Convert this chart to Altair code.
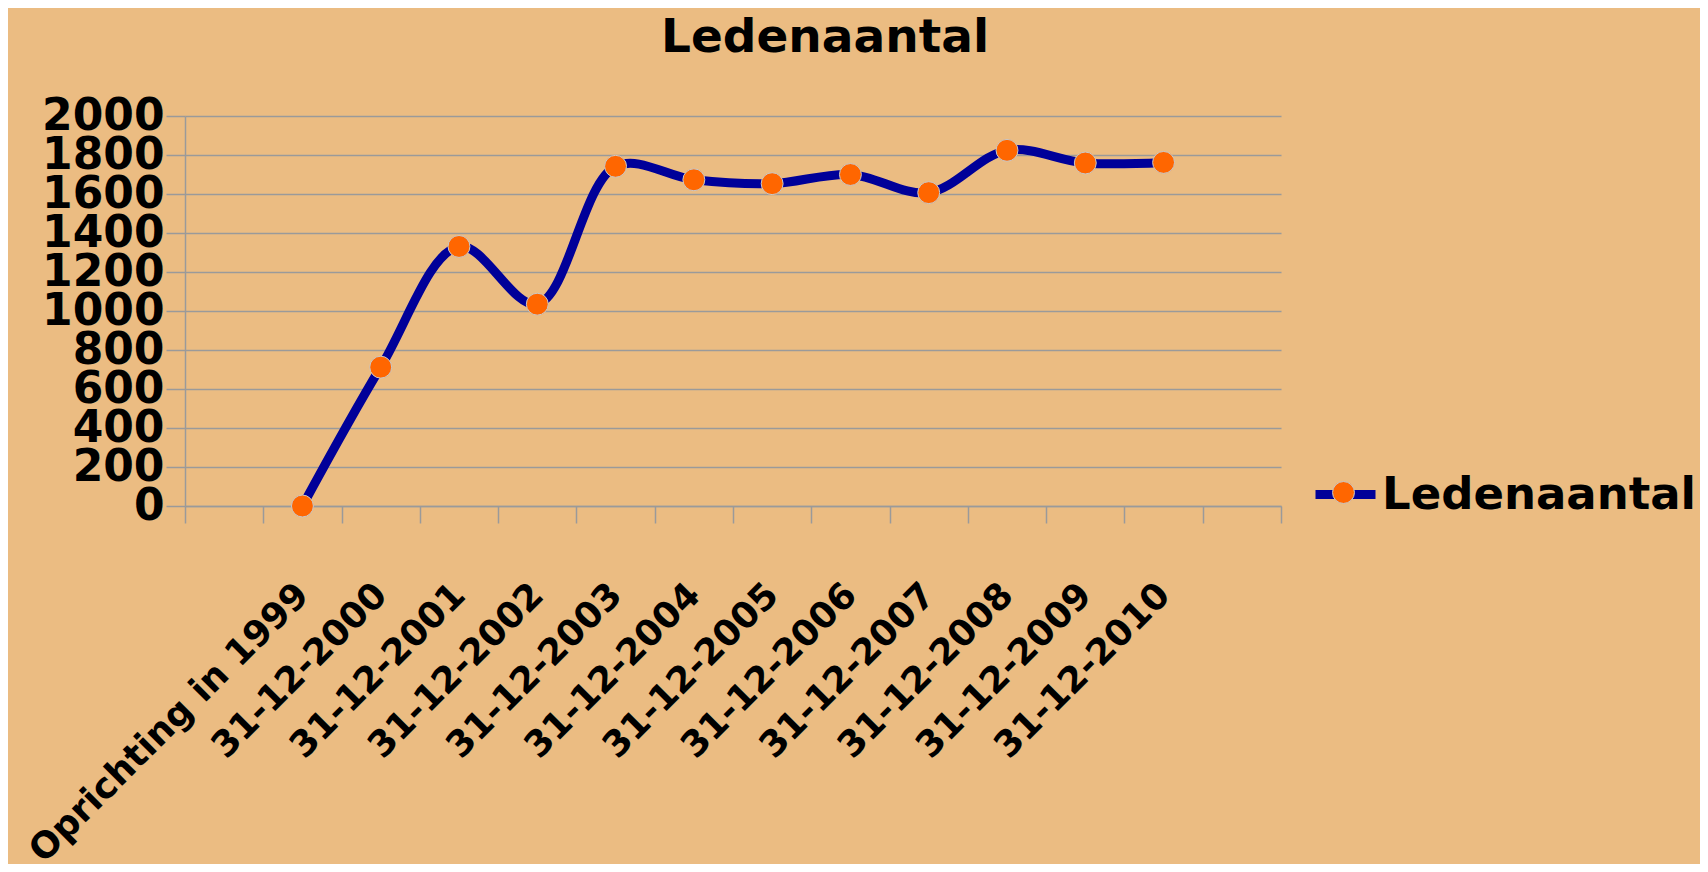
import altair as alt
import pandas as pd

categories = ["_start", "Oprichting in 1999", "31-12-2000", "31-12-2001", "31-12-2002",
              "31-12-2003", "31-12-2004", "31-12-2005", "31-12-2006", "31-12-2007",
              "31-12-2008", "31-12-2009", "31-12-2010", "_end"]
labels = ["Oprichting in 1999", "31-12-2000", "31-12-2001", "31-12-2002",
          "31-12-2003", "31-12-2004", "31-12-2005", "31-12-2006", "31-12-2007",
          "31-12-2008", "31-12-2009", "31-12-2010"]
values = [0, 712, 1331, 1035, 1742, 1673, 1653, 1700, 1607, 1824, 1759, 1762]
y_ticks = [0, 200, 400, 600, 800, 1000, 1200, 1400, 1600, 1800, 2000]

df = pd.DataFrame({"cat": labels, "val": values,
                   "series": ["Ledenaantal"] * len(labels),
                   "series_pt": ["Ledenaantal"] * len(labels)})

FONT = "DejaVu Sans"
GRID = "#9a9a9a"
BG = "#EBBC82"
NAVY = "#000099"
ORANGE = "#FF6600"

x_enc = alt.X("cat:N", sort=categories,
              scale=alt.Scale(type="band", domain=categories, paddingInner=0, paddingOuter=0),
              axis=alt.Axis(title=None, labelAngle=-45, labelAlign="right", labelBaseline="middle",
                            labelFont=FONT, labelFontWeight="bold", labelFontSize=36,
                            labelColor="black", labelPadding=66, labelLimit=0,
                            labelExpr="(datum.value == '_start' || datum.value == '_end') ? '' : datum.value",
                            tickBand="extent", tickSize=17, tickColor=GRID, tickWidth=1.5,
                            domainColor=GRID, domainWidth=1.5, grid=False, labelOverlap=False))
y_enc = alt.Y("val:Q", scale=alt.Scale(domain=[0, 2000], nice=False),
              axis=alt.Axis(title=None, values=y_ticks, format="d", labelFont=FONT,
                            labelFontWeight="bold", labelFontSize=44, labelColor="black",
                            labelPadding=2, labelOverlap=False,
                            tickSize=19, tickColor=GRID, tickWidth=1.5,
                            domainColor=GRID, domainWidth=1.5,
                            grid=True, gridColor=GRID, gridWidth=1.5))

line = alt.Chart(df).mark_line(strokeWidth=9, interpolate="catmull-rom").encode(
    x=x_enc, y=y_enc,
    stroke=alt.Stroke("series:N", scale=alt.Scale(range=[NAVY]),
                      legend=alt.Legend(title=None, orient="none", legendX=1126, legendY=344,
                                        symbolType="stroke", symbolSize=3600, symbolStrokeWidth=9,
                                        labelFont=FONT, labelFontWeight="bold", labelFontSize=45,
                                        labelColor="black", labelOffset=2, labelLimit=0,
                                        padding=0)))

points = alt.Chart(df).mark_point(filled=True, size=480, opacity=1, stroke="#c9c9c9",
                                  strokeWidth=1).encode(
    x=x_enc, y=y_enc,
    fill=alt.Fill("series_pt:N", scale=alt.Scale(range=[ORANGE]),
                  legend=alt.Legend(title=None, orient="none", legendX=1136, legendY=354,
                                    symbolType="circle", symbolSize=480,
                                    symbolStrokeColor="#c9c9c9", symbolStrokeWidth=1,
                                    labelOpacity=0, labelFontSize=45, padding=0)))

chart = alt.layer(line, points).properties(
    width=1096, height=390,
    title=alt.TitleParams("Ledenaantal", font=FONT, fontWeight="bold", fontSize=47,
                          color="black", anchor="middle", dx=92, offset=32),
    autosize=alt.AutoSizeParams(type="none"),
    padding={"left": 177, "top": 108, "right": 419, "bottom": 358},
).configure(background=BG).configure_view(stroke=None)

chart.save("out.html", embed_options={"renderer": "svg", "actions": False})
